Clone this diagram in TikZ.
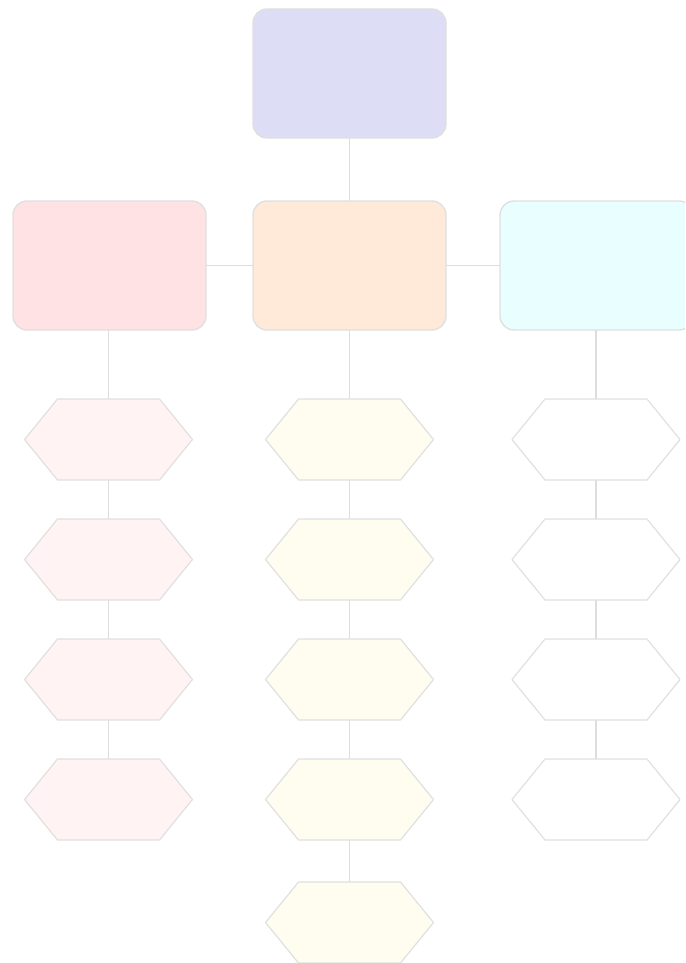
\documentclass[tikz,border=0pt]{standalone}
\usetikzlibrary{calc}
\definecolor{topfill}{HTML}{DDDDF6}
\definecolor{redfill}{HTML}{FFE2E3}
\definecolor{orgfill}{HTML}{FFEAD9}
\definecolor{cyanfill}{HTML}{E8FEFF}
\definecolor{pinkhex}{HTML}{FFF3F3}
\definecolor{yelhex}{HTML}{FFFDF0}
\definecolor{edge}{HTML}{E0E0E0}
\definecolor{conn}{HTML}{DDDDDD}
\tikzset{
  bigbox/.style={draw=edge, line width=1.4pt, rounded corners=14pt, minimum width=193pt, minimum height=129pt, inner sep=0pt, outer sep=0pt},
  hexslot/.style={draw=none, minimum width=168pt, minimum height=81pt, inner sep=0pt, outer sep=0pt},
  hexline/.style={draw=edge, line width=1.2pt, line join=round},
  connector/.style={draw=conn, line width=1.3pt}
}
\newcommand{\hexdraw}[2]{%
  \draw[hexline, fill=#2] (#1.west) -- ($(#1.north west)+(33,0)$) -- ($(#1.north east)+(-33,0)$) -- (#1.east) -- ($(#1.south east)+(-33,0)$) -- ($(#1.south west)+(33,0)$) -- cycle;}
\begin{document}
\begin{tikzpicture}[x=1pt,y=-1pt]
\useasboundingbox (0,0) rectangle (685,963);
\clip (0,0) rectangle (685,963);
% big boxes
\node[bigbox, fill=topfill] (top) at (349.5,73.5) {};
\node[bigbox, fill=redfill] (left) at (109.5,265.5) {};
\node[bigbox, fill=orgfill] (mid) at (349.5,265.5) {};
\node[bigbox, fill=cyanfill] (right) at (596.5,265.5) {};
% hex slots
\foreach \i/\y in {1/439.5,2/559.5,3/679.5,4/799.5}{
  \node[hexslot] (l\i) at (108.5,\y) {};
  \node[hexslot] (m\i) at (349.5,\y) {};
  \node[hexslot] (r\i) at (596,\y) {};
}
\node[hexslot] (m5) at (349.5,922.5) {};
% connectors
\draw[connector] (top.south) -- (mid.north);
\draw[connector] (left.east) -- (mid.west);
\draw[connector] (mid.east) -- (right.west);
\draw[connector] (left.south -| l1.north) -- (l1.north);
\draw[connector] (mid.south) -- (m1.north);
\draw[connector] (right.south -| r1.north) -- (r1.north);
\foreach \a/\b in {1/2,2/3,3/4}{
  \draw[connector] (l\a.south) -- (l\b.north);
  \draw[connector] (m\a.south) -- (m\b.north);
  \draw[connector] (r\a.south) -- (r\b.north);
}
\draw[connector] (m4.south) -- (m5.north);
% hexagons
\foreach \i in {1,2,3,4}{
  \hexdraw{l\i}{pinkhex}
  \hexdraw{m\i}{yelhex}
  \hexdraw{r\i}{white}
}
\hexdraw{m5}{yelhex}
\end{tikzpicture}
\end{document}
